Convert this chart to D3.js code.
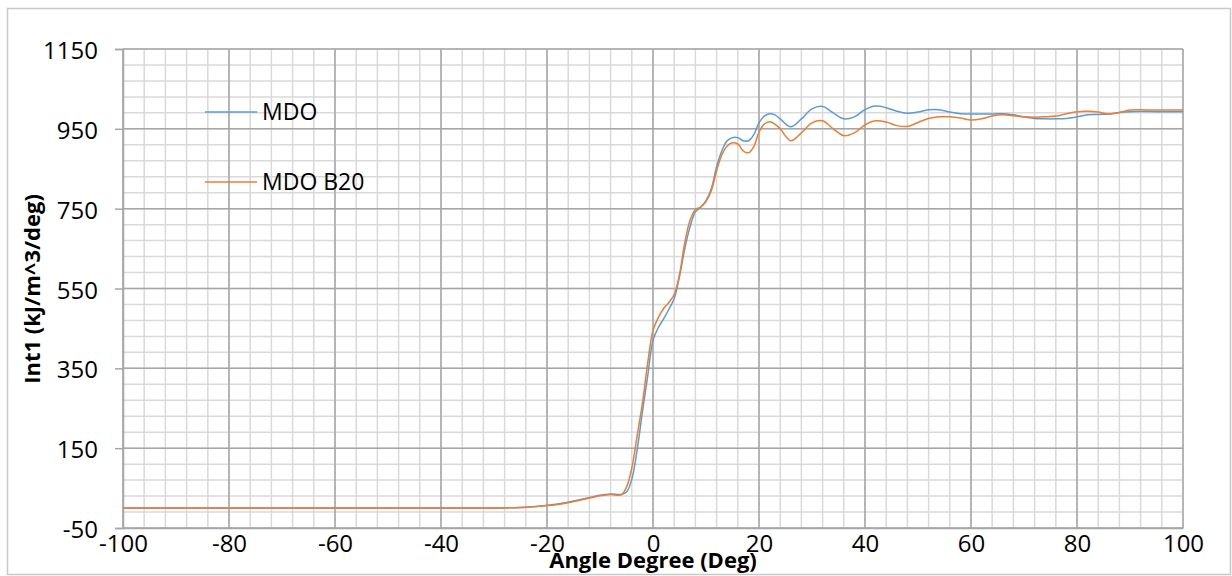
<!DOCTYPE html>
<meta charset="utf-8">
<script src="https://d3js.org/d3.v7.min.js"></script>
<style>
body { margin: 0; background: #fff; }
text { font-family: "Open Sans", sans-serif; fill: #000; }
</style>
<svg class="chart" width="1232" height="576"></svg>
<script>

// angle in degrees, shared by both series
var angles = [-100, -60, -30, -26, -22, -18, -14, -10, -8, -6, -5, -4, -3, -2, -1, 0, 1, 2, 3, 4, 5, 6, 7, 8, 9, 10,
  11, 12, 13, 14, 15, 16, 17, 18, 19, 20, 21, 22, 23, 24, 26, 28, 30, 32, 34, 36, 38, 40, 42, 44, 46, 48, 50,
  52, 54, 56, 58, 60, 62, 64, 66, 68, 70, 72, 74, 76, 78, 80, 82, 84, 86, 88, 90, 95, 100];

var mdo = [0, 0, 0, 1, 4, 10, 20, 32, 35, 34, 40, 72, 145, 241, 331, 420, 452, 474, 498, 525, 580, 650, 705, 742, 754, 770,
  800, 855, 895, 920, 928, 928, 920, 920, 935, 965, 982, 988, 985, 975, 955, 975, 1000, 1006, 990, 975, 980, 998, 1007, 1003, 994, 989, 992,
  998, 998, 992, 988, 987, 987, 987, 988, 985, 980, 976, 975, 975, 976, 980, 985, 986, 987, 991, 993, 993, 993];

var mdoB20 = [0, 0, 0, 1, 4, 9, 19, 31, 34, 33, 52, 100, 180, 262, 363, 445, 477, 500, 515, 535, 585, 665, 721, 748, 754, 768,
  795, 845, 885, 907, 915, 912, 895, 890, 905, 942, 962, 968, 962, 950, 920, 940, 965, 970, 950, 933, 940, 960, 970, 967, 958, 956, 966,
  976, 980, 980, 977, 972, 975, 982, 985, 983, 980, 979, 980, 982, 988, 993, 994, 992, 987, 991, 997, 997, 997];

var seriesNames = ["MDO", "MDO B20"];
var seriesColors = ["#5b9bd5", "#ed7d31"];

var xMajor = d3.range(-100, 101, 20);
var xMinor = d3.range(-100, 101, 4);
var yMajor = d3.range(-50, 1151, 200);
var yMinor = d3.range(-50, 1151, 40);

var svg = d3.select(".chart");
var plotL = 123, plotR = 1183, plotT = 49, plotB = 528;

var x = d3.scaleLinear().domain([-100, 100]).range([plotL, plotR]);
var y = d3.scaleLinear().domain([-50, 1150]).range([plotB, plotT]);

// outer chart border
svg.append("rect").attr("x", 7.5).attr("y", 8.5).attr("width", 1223).attr("height", 566)
  .attr("fill", "none").attr("stroke", "#c8c8c8").attr("stroke-width", 1.5);

// minor grid
var grid = svg.append("g");
grid.selectAll(".vmin").data(xMinor).enter().append("line")
  .attr("x1", d => x(d)).attr("x2", d => x(d)).attr("y1", plotT).attr("y2", plotB)
  .attr("stroke", "#d9d9d9").attr("stroke-width", 1.5);
grid.selectAll(".hmin").data(yMinor).enter().append("line")
  .attr("x1", plotL).attr("x2", plotR).attr("y1", d => y(d)).attr("y2", d => y(d))
  .attr("stroke", "#d9d9d9").attr("stroke-width", 1.5);
// major grid
grid.selectAll(".vmaj").data(xMajor).enter().append("line")
  .attr("x1", d => x(d)).attr("x2", d => x(d)).attr("y1", plotT).attr("y2", plotB)
  .attr("stroke", "#a6a6a6").attr("stroke-width", 1.5);
grid.selectAll(".hmaj").data(yMajor).enter().append("line")
  .attr("x1", plotL).attr("x2", plotR).attr("y1", d => y(d)).attr("y2", d => y(d))
  .attr("stroke", "#a6a6a6").attr("stroke-width", 1.5);

// axes
var yAxis = svg.append("g").attr("transform", "translate(" + plotL + ",0)")
  .call(d3.axisLeft(y).tickValues(yMajor).tickSize(8).tickPadding(17).tickFormat(d => String(d)));
var xAxis = svg.append("g").attr("transform", "translate(0," + plotB + ")")
  .call(d3.axisBottom(x).tickValues(xMajor).tickSize(0).tickPadding(7).tickFormat(d => String(d)));
[yAxis, xAxis].forEach(function(a) {
  a.select(".domain").attr("stroke", "#a6a6a6").attr("stroke-width", 1.5);
  a.selectAll(".tick line").attr("stroke", "#a6a6a6").attr("stroke-width", 1.5);
  a.selectAll("text").attr("font-size", "24px").attr("font-family", "Open Sans");
});
yAxis.selectAll("text").attr("dy", "0.4em");
xAxis.selectAll("text").attr("dy", "0.72em");

// axis titles
svg.append("text").attr("x", 653).attr("y", 568).attr("text-anchor", "middle")
  .attr("font-size", "22px").attr("font-weight", "bold").text("Angle Degree (Deg)");
svg.append("text").attr("transform", "translate(40,289) rotate(-90)").attr("text-anchor", "middle")
  .attr("font-size", "22px").attr("font-weight", "bold").text("Int1 (kJ/m^3/deg)");

// series
var line = d3.line().curve(d3.curveCatmullRom.alpha(0.5));
[mdo, mdoB20].forEach(function(vals, i) {
  svg.append("path")
    .attr("d", line(angles.map((a, j) => [x(a), y(vals[j])])))
    .attr("fill", "none").attr("stroke", seriesColors[i]).attr("stroke-width", 1.5);
});

// legend
var legendY = [112, 182];
seriesNames.forEach(function(name, i) {
  svg.append("line").attr("x1", 205).attr("x2", 257).attr("y1", legendY[i]).attr("y2", legendY[i])
    .attr("stroke", seriesColors[i]).attr("stroke-width", 1.5);
  svg.append("text").attr("x", 262).attr("y", legendY[i]).attr("dy", "0.36em")
    .attr("font-size", "23px").text(name);
});

</script>
